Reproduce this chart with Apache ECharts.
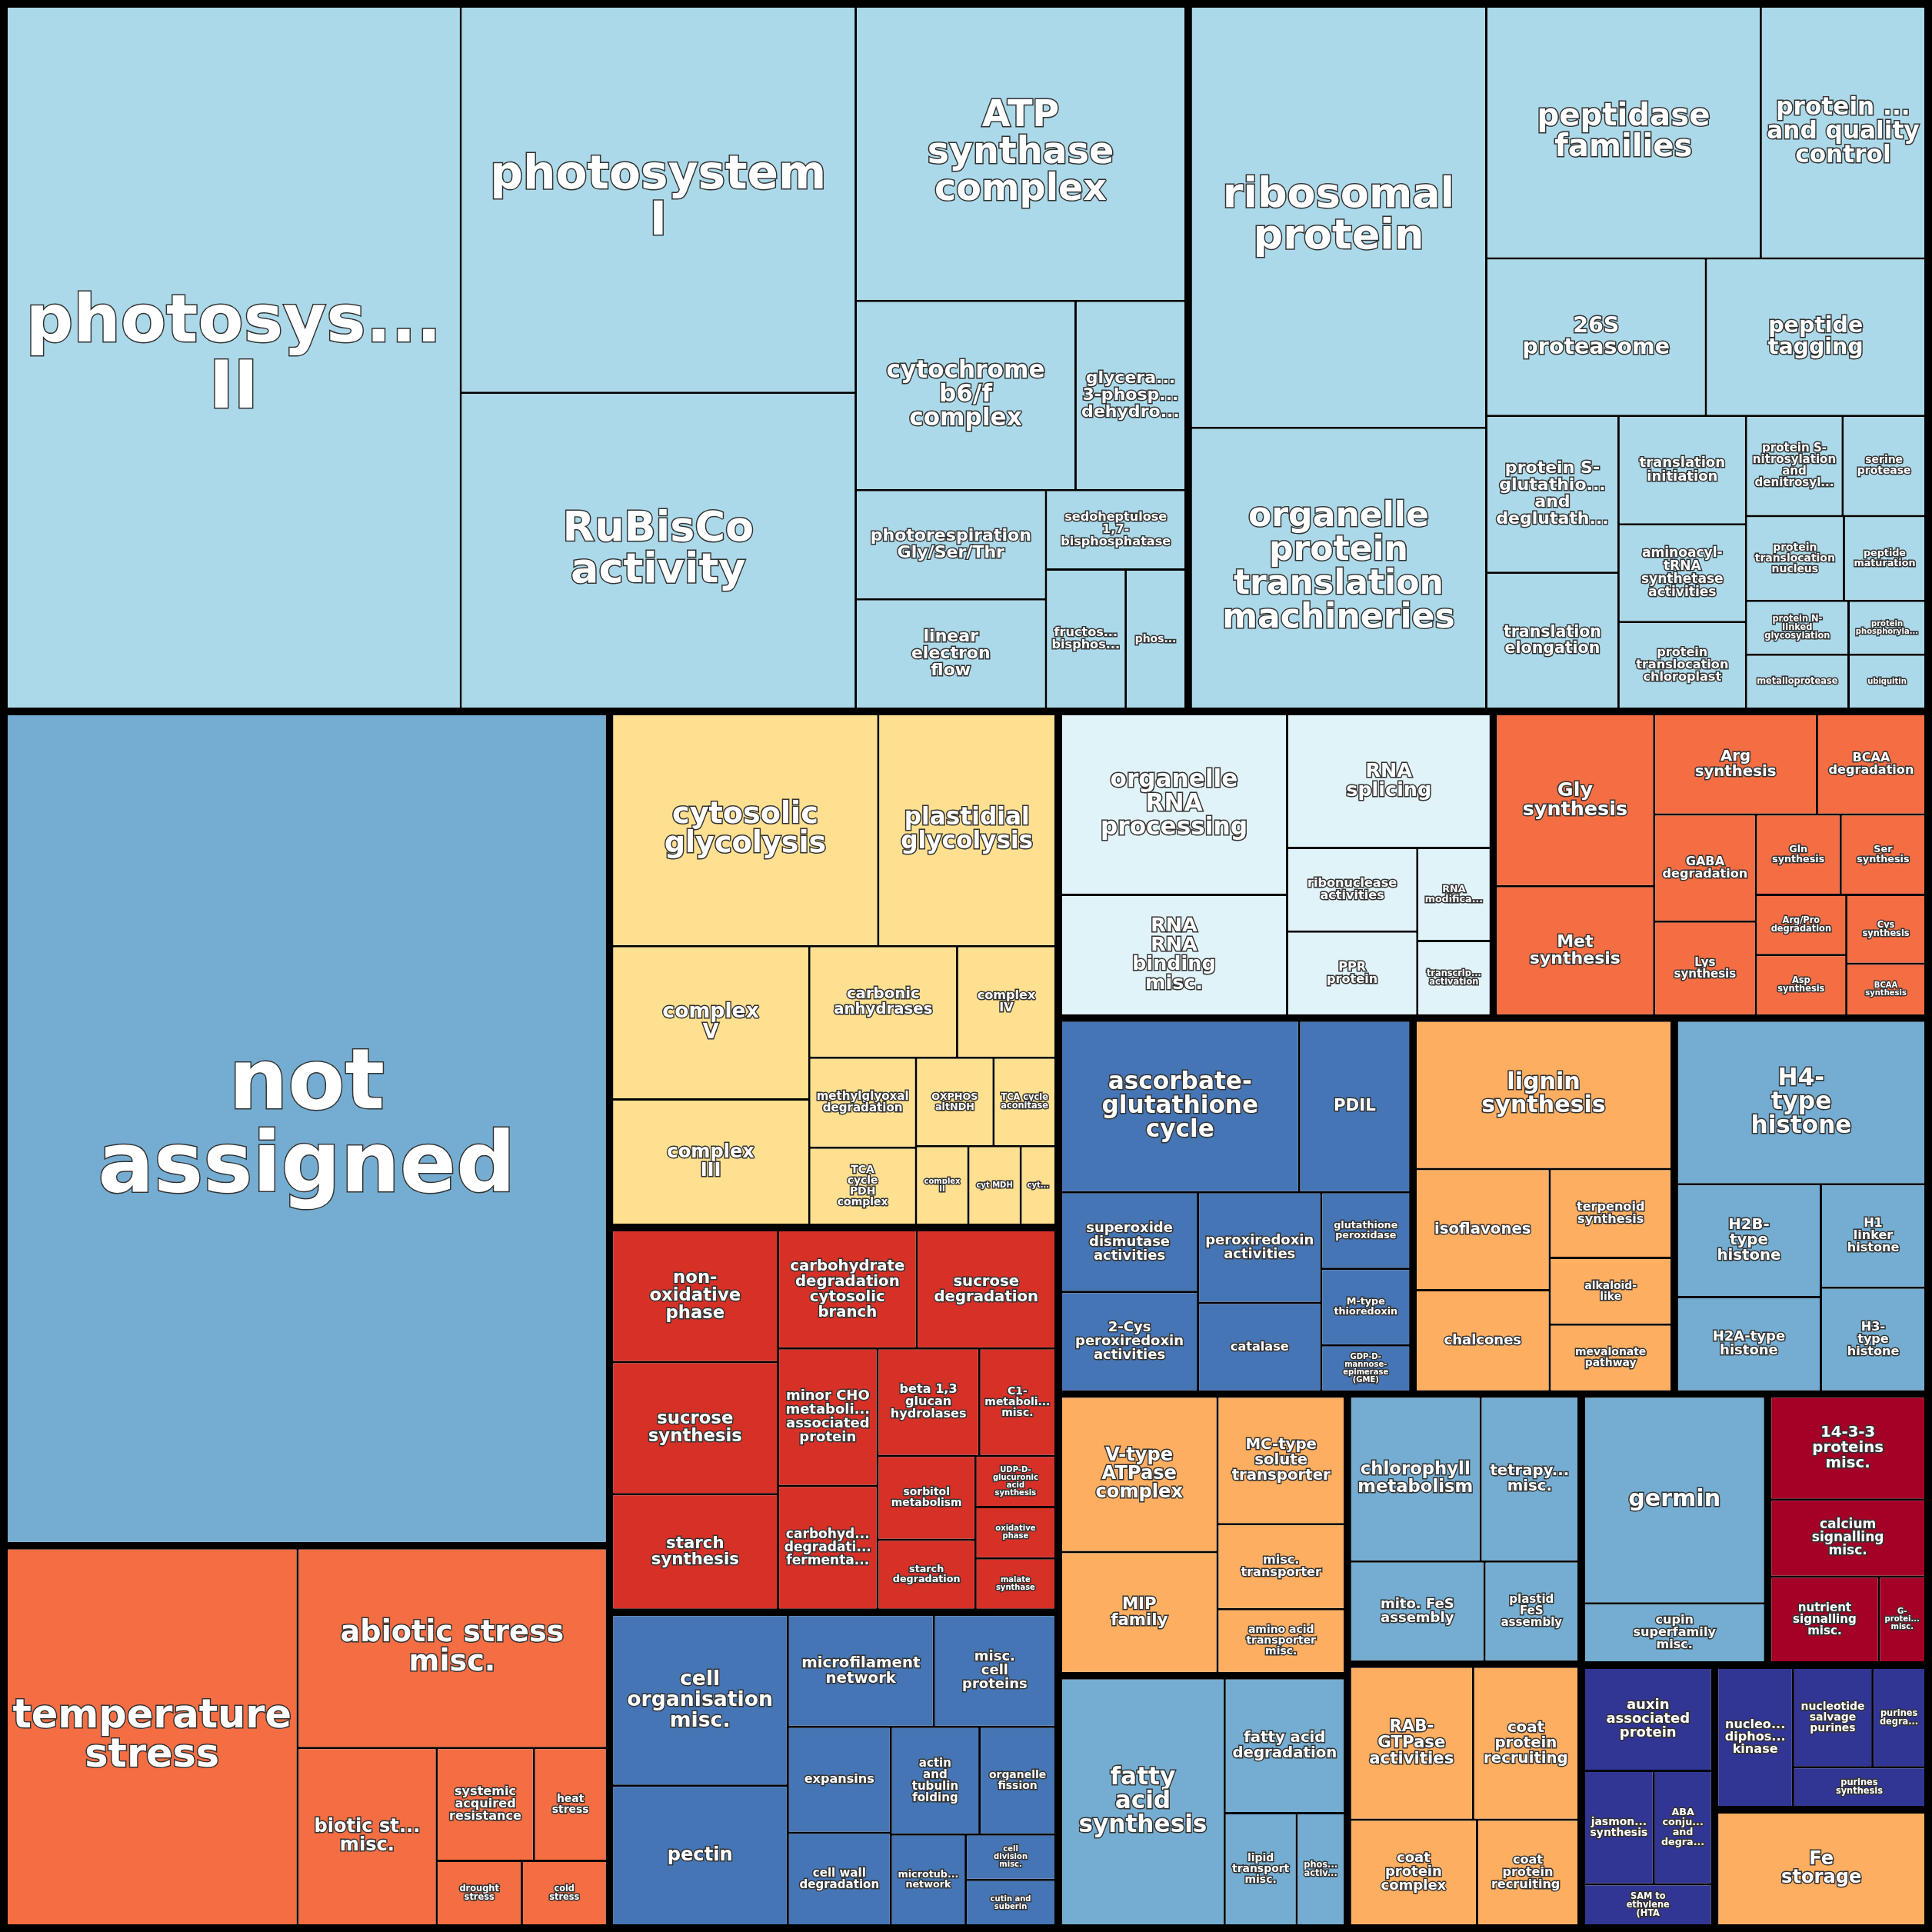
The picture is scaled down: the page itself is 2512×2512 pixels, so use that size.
<!DOCTYPE html>
<html><head><meta charset="utf-8">
<script src="https://cdn.jsdelivr.net/npm/echarts@6/dist/echarts.min.js"></script>
<style>html,body{margin:0;padding:0;background:#000}#chart{width:2512px;height:2512px}</style>
</head><body><div id="chart"></div>
<script>
// group names and colours
var groups = ['not assigned', 'Photosynthesis', 'Protein homeostasis', 'Cellular respiration', 'Carbohydrate metabolism',
  'Stress response', 'Redox homeostasis', 'Cell wall', 'Amino acid metabolism', 'RNA processing', 'Chromatin',
  'Secondary metabolism', 'Lipid metabolism', 'Solute transport', 'Vesicle trafficking', 'Coenzyme metabolism',
  'germin', 'Signalling', 'Phytohormones', 'Nucleotide metabolism', 'Fe storage'];
var groupColors = ['#74add1', '#abd9e9', '#abd9e9', '#fee090', '#d73027',
  '#f46d43', '#4575b4', '#4575b4', '#f46d43', '#e0f3f8', '#74add1',
  '#fdae61', '#74add1', '#fdae61', '#fdae61', '#74add1',
  '#74add1', '#a50026', '#313695', '#313695', '#fdae61'];

// leaves per group (values in thousand px²)
var leafNames = [
  ['not\nassigned'],
  ['photosystem\nII', 'photosystem\nI', 'RuBisCo\nactivity', 'ATP\nsynthase\ncomplex', 'cytochrome\nb6/f\ncomplex', 'linear\nelectron\nflow', 'photorespiration\nGly/Ser/Thr', 'glyceraldehyde\n3-phosphate\ndehydrogenase', 'fructose-1,6-\nbisphosphatase', 'sedoheptulose\n1,7-\nbisphosphatase', 'phosphoribulokinase'],
  ['ribosomal\nprotein', 'organelle\nprotein\ntranslation\nmachineries', 'peptidase\nfamilies', 'protein folding\nand quality\ncontrol', 'peptide\ntagging', '26S\nproteasome', 'protein S-\nglutathionylation\nand\ndeglutathionylation', 'translation\nelongation', 'translation\ninitiation', 'aminoacyl-\ntRNA\nsynthetase\nactivities', 'protein\ntranslocation\nchloroplast', 'protein S-\nnitrosylation\nand\ndenitrosylation', 'protein\ntranslocation\nnucleus', 'serine\nprotease', 'peptide\nmaturation', 'metalloprotease', 'protein N-\nlinked\nglycosylation', 'ubiquitin', 'protein\nphosphorylation'],
  ['cytosolic\nglycolysis', 'plastidial\nglycolysis', 'complex\nV', 'complex\nIII', 'carbonic\nanhydrases', 'complex\nIV', 'methylglyoxal\ndegradation', 'TCA\ncycle\nPDH\ncomplex', 'OXPHOS\naltNDH', 'TCA cycle\naconitase', 'cyt MDH', 'complex\nII', 'cyt IDH'],
  ['sucrose\nsynthesis', 'non-\noxidative\nphase', 'starch\nsynthesis', 'sucrose\ndegradation', 'carbohydrate\ndegradation\ncytosolic\nbranch', 'minor CHO\nmetabolism\nassociated\nprotein', 'carbohydrate\ndegradation\nfermentation', 'beta 1,3\nglucan\nhydrolases', 'sorbitol\nmetabolism', 'starch\ndegradation', 'C1-\nmetabolism\nmisc.', 'malate\nsynthase', 'oxidative\nphase', 'UDP-D-\nglucuronic\nacid\nsynthesis'],
  ['temperature\nstress', 'abiotic stress\nmisc.', 'biotic stress\nmisc.', 'systemic\nacquired\nresistance', 'heat\nstress', 'cold\nstress', 'drought\nstress'],
  ['ascorbate-\nglutathione\ncycle', 'PDIL', 'peroxiredoxin\nactivities', '2-Cys\nperoxiredoxin\nactivities', 'superoxide\ndismutase\nactivities', 'catalase', 'M-type\nthioredoxin', 'glutathione\nperoxidase', 'GDP-D-\nmannose-\nepimerase\n(GME)'],
  ['cell\norganisation\nmisc.', 'pectin', 'microfilament\nnetwork', 'misc.\ncell\nproteins', 'expansins', 'actin\nand\ntubulin\nfolding', 'cell wall\ndegradation', 'organelle\nfission', 'microtubular\nnetwork', 'cutin and\nsuberin', 'cell\ndivision\nmisc.'],
  ['Gly\nsynthesis', 'Met\nsynthesis', 'Arg\nsynthesis', 'GABA\ndegradation', 'BCAA\ndegradation', 'Lys\nsynthesis', 'Ser\nsynthesis', 'Gln\nsynthesis', 'Cys\nsynthesis', 'Asp\nsynthesis', 'Arg/Pro\ndegradation', 'BCAA\nsynthesis'],
  ['organelle\nRNA\nprocessing', 'RNA\nsplicing', 'RNA\nRNA\nbinding\nmisc.', 'PPR\nprotein', 'ribonuclease\nactivities', 'RNA\nmodification', 'transcriptional\nactivation'],
  ['H4-\ntype\nhistone', 'H2B-\ntype\nhistone', 'H2A-type\nhistone', 'H3-\ntype\nhistone', 'H1\nlinker\nhistone'],
  ['lignin\nsynthesis', 'isoflavones', 'chalcones', 'terpenoid\nsynthesis', 'mevalonate\npathway', 'alkaloid-\nlike'],
  ['fatty\nacid\nsynthesis', 'fatty acid\ndegradation', 'lipid\ntransport\nmisc.', 'phospholipase\nactivities'],
  ['V-type\nATPase\ncomplex', 'MIP\nfamily', 'MC-type\nsolute\ntransporter', 'misc.\ntransporter', 'amino acid\ntransporter\nmisc.'],
  ['RAB-\nGTPase\nactivities', 'coat\nprotein\nrecruiting', 'coat\nprotein\ncomplex', 'coat\nprotein\nrecruiting '],
  ['chlorophyll\nmetabolism', 'tetrapyrrole\nmisc.', 'mito. FeS\nassembly', 'plastid\nFeS\nassembly'],
  ['germin', 'cupin\nsuperfamily\nmisc.'],
  ['14-3-3\nproteins\nmisc.', 'calcium\nsignalling\nmisc.', 'nutrient\nsignalling\nmisc.', 'G-\nproteins\nmisc.'],
  ['auxin\nassociated\nprotein', 'jasmonate\nsynthesis', 'ABA\nconjugation\nand\ndegradation', 'SAM to\nethylene\n(HTA\ncycle)'],
  ['nucleoside\ndiphosphate\nkinase', 'nucleotide\nsalvage\npurines', 'purines\nsynthesis', 'purines\ndegradation'],
  ['Fe\nstorage']
];
var leafValues = [
  [360],
  [230, 110, 90, 70, 30, 15, 15, 15, 8, 8, 6],
  [90, 60, 50, 30, 25, 25, 15, 13, 10, 9, 8, 7, 6, 6, 5, 4, 4, 3, 3],
  [45, 30, 22, 18, 12, 8, 7, 6, 5, 4, 3, 3, 2],
  [16, 16, 14, 12, 12, 10, 9, 8, 6, 5, 6, 3, 3, 3],
  [80, 45, 18, 8, 6, 4, 4],
  [30, 14, 10, 10, 10, 8, 5, 5, 3],
  [22, 18, 12, 10, 8, 7, 7, 6, 5, 3, 3],
  [20, 15, 12, 8, 8, 7, 5, 5, 4, 4, 4, 3],
  [30, 20, 20, 8, 8, 5, 4],
  [30, 12, 10, 8, 8],
  [28, 12, 10, 8, 6, 6],
  [30, 12, 6, 4],
  [18, 14, 12, 8, 6],
  [14, 12, 10, 8],
  [16, 12, 10, 7],
  [28, 8],
  [12, 9, 7, 3],
  [10, 6, 5, 4],
  [8, 6, 4, 4],
  [18]
];

var data = groups.map(function (g, i) {
  return {
    name: g,
    itemStyle: {color: groupColors[i]},
    children: leafNames[i].map(function (n, j) {
      var v = leafValues[i][j];
      return {
        name: n,
        value: v,
        label: {fontSize: Math.max(10, Math.min(140, Math.sqrt(v * 1000) * 0.18))}
      };
    })
  };
});

var chart = echarts.init(document.getElementById('chart'));
chart.setOption({
  backgroundColor: '#000',
  series: [{
    type: 'treemap',
    left: 10, top: 10, right: 10, bottom: 10,
    roam: false,
    nodeClick: false,
    breadcrumb: {show: false},
    animation: false,
    sort: 'desc',
    squareRatio: 1,
    label: {
      show: true,
      position: 'inside',
      align: 'center',
      verticalAlign: 'middle',
      color: '#fff',
      fontFamily: 'DejaVu Sans',
      fontWeight: 'bold',
      textBorderColor: '#333',
      textBorderWidth: 3,
      overflow: 'truncate'
    },
    upperLabel: {show: false},
    levels: [
      {itemStyle: {borderWidth: 0, gapWidth: 10, borderColor: '#000'}},
      {itemStyle: {borderWidth: 0, gapWidth: 3, borderColor: '#000'}},
      {itemStyle: {borderWidth: 0}}
    ],
    data: data
  }]
});
</script>
</body></html>
